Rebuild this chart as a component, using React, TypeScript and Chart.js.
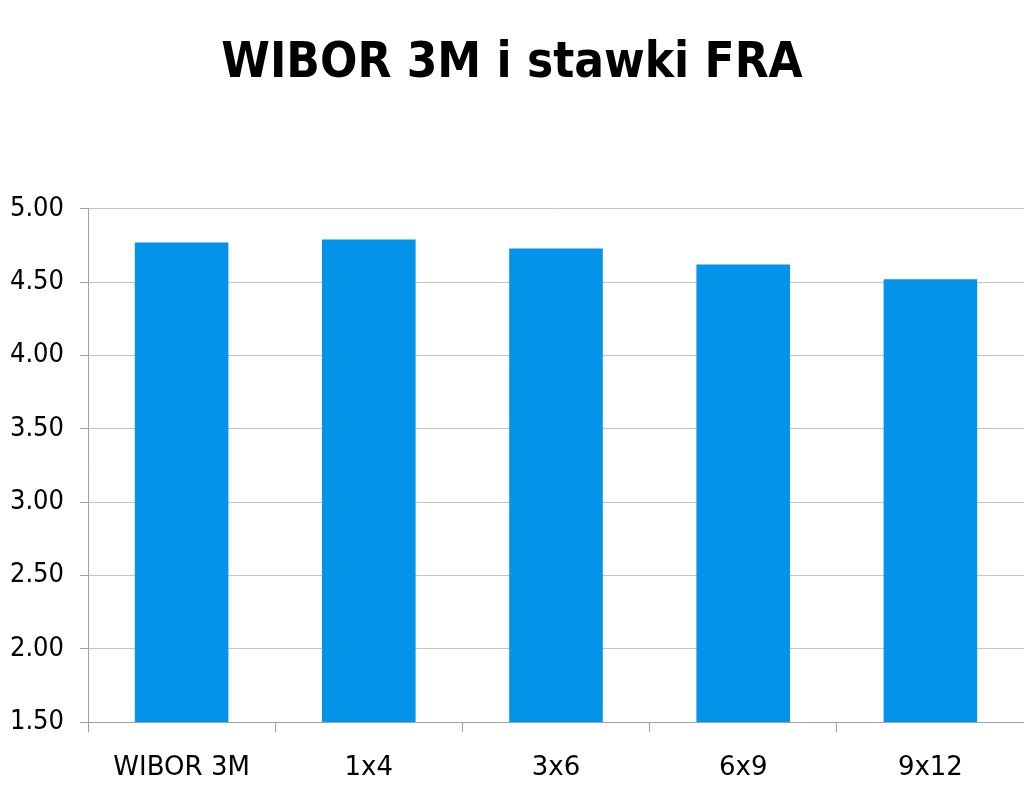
import { useEffect, useRef } from "react";
import { Chart, registerables } from "chart.js";

Chart.register(...registerables);

const categories = ["WIBOR 3M", "1x4", "3x6", "6x9", "9x12"];
const rates = [4.77, 4.79, 4.73, 4.62, 4.52];
const yMin = 1.5;
const yMax = 5.0;
const yStep = 0.5;

export default function App() {
  const canvasRef = useRef<HTMLCanvasElement | null>(null);
  const chartRef = useRef<Chart | null>(null);

  useEffect(() => {
    document.body.style.margin = "0";
    if (!canvasRef.current) return;
    if (chartRef.current) chartRef.current.destroy();
    const ctx = canvasRef.current.getContext("2d");
    if (!ctx) return;

    chartRef.current = new Chart(ctx, {
      type: "bar",
      data: {
        labels: categories,
        datasets: [
          {
            label: "WIBOR 3M i stawki FRA",
            data: rates,
            backgroundColor: "#0394ea",
            borderWidth: 0,
            barPercentage: 0.5,
            categoryPercentage: 1,
          },
        ],
      },
      options: {
        responsive: false,
        animation: false,
        layout: { padding: 0 },
        plugins: {
          legend: { display: false },
          tooltip: { enabled: false },
          title: {
            display: true,
            text: "WIBOR 3M i stawki FRA",
            color: "#000",
            font: { family: "DejaVu Sans Condensed", size: 49, weight: "bold", lineHeight: 1.2 },
            padding: { top: 35, bottom: 115 },
          },
        },
        scales: {
          x: {
            afterFit: (scale) => {
              scale.height = 69;
            },
            grid: {
              offset: true,
              drawOnChartArea: false,
              drawTicks: true,
              tickLength: 10,
              color: "#a0a0a0",
            },
            border: { color: "#a0a0a0" },
            ticks: {
              color: "#000",
              padding: 21,
              font: { family: "DejaVu Sans", size: 26 },
            },
          },
          y: {
            min: yMin,
            max: yMax,
            afterFit: (scale) => {
              scale.width = 88;
            },
            grid: {
              color: "#c4c4c4",
              tickLength: 8,
              tickColor: "#a0a0a0",
            },
            border: { color: "#a0a0a0" },
            ticks: {
              stepSize: yStep,
              color: "#000",
              padding: 16,
              font: { family: "DejaVu Sans Condensed", size: 27 },
              callback: (v) => Number(v).toFixed(2),
            },
          },
        },
      },
    });

    return () => {
      if (chartRef.current) {
        chartRef.current.destroy();
        chartRef.current = null;
      }
    };
  }, []);

  return (
    <div style={{ width: 1024, height: 791, background: "#fff" }}>
      <canvas ref={canvasRef} width={1024} height={791} />
    </div>
  );
}
